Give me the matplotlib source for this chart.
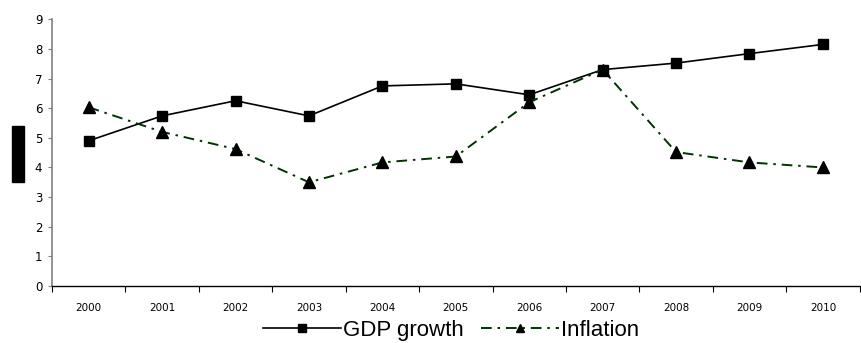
import numpy as np
import matplotlib
matplotlib.use("Agg")
import matplotlib.pyplot as plt
from matplotlib.patches import Rectangle

years = ['2000', '2001', '2002', '2003', '2004', '2005',
         '2006', '2007', '2008', '2009', '2010']
gdp_growth = [4.9, 5.74, 6.25, 5.74, 6.75, 6.82, 6.45, 7.3, 7.52, 7.84, 8.15]
inflation = [6.03, 5.2, 4.62, 3.5, 4.17, 4.37, 6.2, 7.3, 4.52, 4.17, 4.0]

fig = plt.figure(figsize=(8.61, 3.43), dpi=100)
ax = fig.add_axes([0.0604, 0.166, 0.938, 0.778])

x = np.arange(len(years))
ax.plot(x, gdp_growth, '-', color='black', lw=1.2, marker='s', ms=7.5,
        label='GDP growth')
ax.plot(x, inflation, color='#003300', lw=1.4, dashes=(5.5, 3, 1.3, 3),
        marker='^', ms=9, mfc='black', mec='black', label='Inflation')

ax.set_xlim(-0.5, len(years) - 0.5)
ax.set_ylim(0, 9)
ax.set_yticks(range(10))
ax.set_xticks(x)
ax.set_xticklabels(years)
ax.set_xticks(np.arange(-0.5, len(years)), minor=True)
ax.tick_params(axis='x', which='major', length=0, pad=12, labelsize=7.5)
ax.tick_params(axis='x', which='minor', length=4, width=0.8, direction='out')
ax.tick_params(axis='y', length=3, width=0.8, labelsize=8.5, pad=4,
               color='#808080')

for s in ['top', 'right']:
    ax.spines[s].set_visible(False)
ax.spines['left'].set_color('#808080')
ax.spines['left'].set_linewidth(1.2)
ax.spines['bottom'].set_linewidth(1.0)

# y label (blacked out in the original)
fig.add_artist(Rectangle((12 / 861, 1 - 182 / 343), 12 / 861, 56 / 343,
                         transform=fig.transFigure, color='black'))

leg = fig.legend(loc='center', bbox_to_anchor=(0.524, 0.037), ncol=2,
                 frameon=False, handlelength=3.5, handletextpad=0.1,
                 columnspacing=0.75, markerscale=0.7,
                 prop={'family': 'Liberation Sans', 'size': 16})

fig.savefig('out.png', dpi=100)
